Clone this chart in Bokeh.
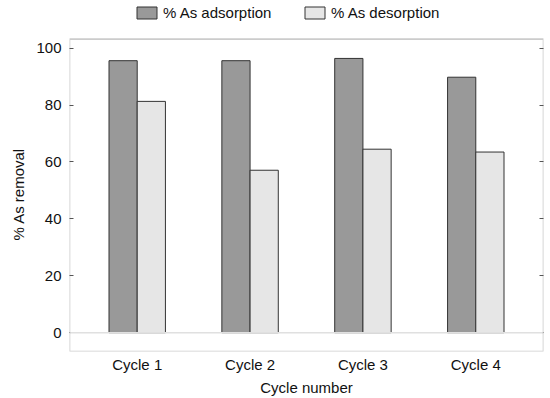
from bokeh.plotting import figure
from bokeh.models import (ColumnDataSource, FactorRange, Range1d, LinearAxis, Span,
                          Legend, LegendItem, FixedTicker, BoxAnnotation, Title)
from bokeh.transform import dodge
from bokeh.embed import file_html
from bokeh.resources import INLINE

cycles = ["Cycle 1", "Cycle 2", "Cycle 3", "Cycle 4"]
adsorption = [95.6, 95.6, 96.4, 89.8]
desorption = [81.3, 57.1, 64.5, 63.5]
y_ticks = [0, 20, 40, 60, 80, 100]

FONT = "Liberation Sans"
FRAME = "#555555"
Y_MIN, Y_MAX = -6.6, 103.2      # visible axis box
Y_TOP = 115.0                   # extra room above the box for the legend

src = ColumnDataSource(dict(cycle=cycles, ads=adsorption, des=desorption))

p = figure(width=550, height=398, output_backend="svg", toolbar_location=None,
           x_range=FactorRange(factors=cycles, range_padding=0.05, range_padding_units="percent"),
           y_range=Range1d(Y_MIN, Y_TOP),
           min_border_left=68, min_border_right=7, min_border_top=5, min_border_bottom=46)

p.xgrid.visible = False
p.ygrid.visible = False
p.outline_line_color = None
p.background_fill_color = "white"

p.add_layout(Span(location=0, dimension="width", line_color="#e0e0e0", line_width=1.5))

r1 = p.vbar(x=dodge("cycle", -0.125, range=p.x_range), top="ads", width=0.25, source=src,
            fill_color="#999999", line_color="#333333", line_width=1)
r2 = p.vbar(x=dodge("cycle", 0.125, range=p.x_range), top="des", width=0.25, source=src,
            fill_color="#e6e6e6", line_color="#333333", line_width=1)

p.add_layout(BoxAnnotation(bottom=Y_MIN, top=Y_MAX, fill_color=None, fill_alpha=0,
                           line_color=FRAME, line_width=1.6))

# x axis
xa = p.xaxis[0]
xa.axis_label = "Cycle number"
xa.axis_line_color = None
xa.major_tick_line_color = None
xa.minor_tick_line_color = None
xa.major_tick_in = 0
xa.major_tick_out = 0
xa.major_label_standoff = 4
xa.axis_label_standoff = 3
xa.major_label_text_font = FONT
xa.major_label_text_font_size = "15px"
xa.axis_label_text_font = FONT
xa.axis_label_text_font_size = "15px"
xa.axis_label_text_font_style = "normal"
xa.major_label_text_color = "#111111"
xa.axis_label_text_color = "#111111"

# y axis
ya = p.yaxis[0]
ya.ticker = FixedTicker(ticks=y_ticks)
ya.axis_line_color = None
ya.major_tick_in = 4
ya.major_tick_out = 0
ya.major_tick_line_color = FRAME
ya.minor_tick_line_color = None
ya.major_label_standoff = 8
ya.major_label_text_font = FONT
ya.major_label_text_font_size = "15px"
ya.major_label_text_color = "#111111"

# y axis label as a left title, aligned to the visible box
p.add_layout(Title(text="% As removal", align="left", offset=111, standoff=14,
                   text_font=FONT, text_font_size="15px", text_font_style="normal",
                   text_color="#111111"), "left")

# right axis (ticks only)
ra = LinearAxis(ticker=FixedTicker(ticks=y_ticks))
ra.axis_line_color = None
ra.major_tick_in = 4
ra.major_tick_out = 0
ra.major_tick_line_color = FRAME
ra.minor_tick_line_color = None
ra.major_label_overrides = {t: "" for t in y_ticks}
ra.major_label_standoff = 0
p.add_layout(ra, "right")

legend = Legend(items=[LegendItem(label="% As adsorption", renderers=[r1]),
                       LegendItem(label="% As desorption", renderers=[r2])],
                orientation="horizontal", location=(65, 330),
                glyph_width=25, glyph_height=15, label_standoff=4, label_width=139,
                label_height=15, spacing=0,
                padding=0, margin=0, border_line_color=None, background_fill_alpha=0,
                label_text_font=FONT, label_text_font_size="15px", label_text_color="#111111")
p.add_layout(legend, "center")

open("out.html", "w").write(file_html(p, INLINE))
